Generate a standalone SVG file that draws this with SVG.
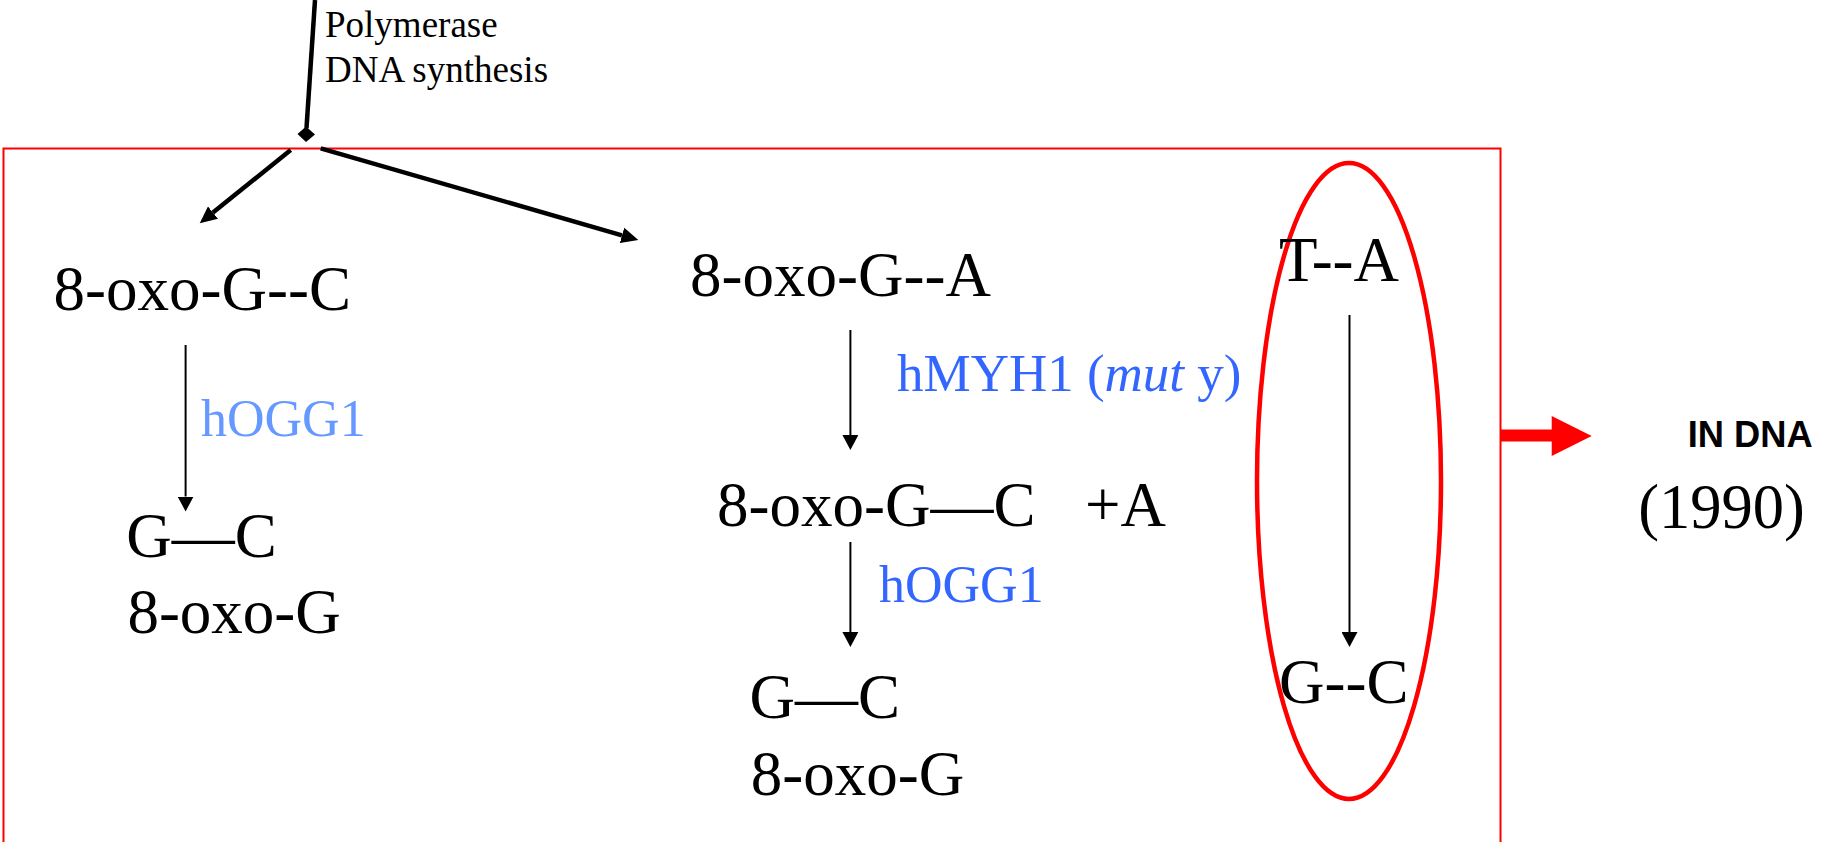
<svg xmlns="http://www.w3.org/2000/svg" width="1821" height="842" viewBox="0 0 1821 842">
  <style>
    .t { font-family: "Liberation Serif", "Times New Roman", serif; fill: #000; }
    .big { font-size: 63px; }
    .lab { font-size: 37px; }
    .blue { font-family: "Liberation Serif", "Times New Roman", serif; fill: #3366FF; }
    .lblue { font-family: "Liberation Serif", "Times New Roman", serif; fill: #6699FF; }
    .thin { stroke: #000; stroke-width: 2; fill: none; }
    .thick { stroke: #000; stroke-width: 4.5; fill: none; }
  </style>
  <defs>
    <marker id="ah" markerUnits="userSpaceOnUse" markerWidth="16" markerHeight="16" viewBox="0 0 16 16" refX="0" refY="8" orient="auto">
      <path d="M0,0 L15,8 L0,16 z" fill="#000"/>
    </marker>
    <marker id="ahb" markerUnits="userSpaceOnUse" markerWidth="18" markerHeight="16" viewBox="0 0 18 16" refX="0" refY="8" orient="auto">
      <path d="M0,0 L17,8 L0,16 z" fill="#000"/>
    </marker>
  </defs>
  <rect width="1821" height="842" fill="#fff"/>

  <g id="frame">
    <rect x="3.5" y="148.5" width="1497" height="760" fill="none" stroke="#ff0000" stroke-width="2"/>
  </g>

  <g id="connectors">
    <line class="thick" x1="315" y1="0" x2="306.5" y2="128"/>
    <polygon points="306,126.5 315,134.5 306,142 297.5,134" fill="#000"/>
    <line class="thick" x1="290.7" y1="150" x2="213" y2="212.6" marker-end="url(#ahb)"/>
    <line class="thick" x1="320.7" y1="148.3" x2="622" y2="235.4" marker-end="url(#ahb)"/>
    <line class="thin" x1="185.6" y1="345" x2="185.6" y2="496.5" marker-end="url(#ah)"/>
    <line class="thin" x1="850.4" y1="330" x2="850.4" y2="435" marker-end="url(#ah)"/>
    <line class="thin" x1="850.4" y1="542" x2="850.4" y2="632" marker-end="url(#ah)"/>
    <line class="thin" x1="1349.5" y1="315" x2="1349.5" y2="632" marker-end="url(#ah)"/>
    <polygon points="1500,429.5 1551.7,429.5 1551.7,416 1591.7,436 1551.7,456 1551.7,441.5 1500,441.5" fill="#ff0000"/>
  </g>

  <g id="polymerase">
    <text class="t lab" x="325" y="37.3">Polymerase</text>
    <text class="t lab" x="325" y="82.3">DNA synthesis</text>
  </g>

  <g id="left-branch">
    <text class="t big" x="53.6" y="310" font-size="63.5">8-oxo-G--C</text>
    <text class="lblue" x="201" y="436" font-size="52">hOGG1</text>
    <text class="t big" x="126.3" y="556.7">G—C</text>
    <text class="t big" x="127.4" y="633.3">8-oxo-G</text>
  </g>

  <g id="middle-branch">
    <text class="t big" x="690" y="296" font-size="63.5">8-oxo-G--A</text>
    <text class="blue" x="897" y="391" font-size="53">hMYH1 (<tspan font-style="italic">mut</tspan> y)</text>
    <text class="t big" x="717" y="526">8-oxo-G—C</text>
    <text class="t big" x="1085" y="526">+A</text>
    <text class="blue" x="879" y="602" font-size="52">hOGG1</text>
    <text class="t big" x="749.6" y="718">G—C</text>
    <text class="t big" x="750.7" y="795">8-oxo-G</text>
  </g>

  <g id="transversion">
    <ellipse cx="1349" cy="481" rx="92" ry="318" fill="none" stroke="#ff0000" stroke-width="4.5"/>
    <text class="t big" x="1279" y="281" font-size="64" textLength="120" lengthAdjust="spacing">T--A</text>
    <text class="t big" x="1279" y="703">G--C</text>
  </g>

  <g id="result">
    <text x="1687.7" y="446.7" font-family="'Liberation Sans', Arial, sans-serif" font-weight="bold" font-size="36.5" textLength="125" lengthAdjust="spacingAndGlyphs">IN DNA</text>
    <text class="t" x="1638.3" y="528.3" font-size="62.5">(1990)</text>
  </g>
</svg>
